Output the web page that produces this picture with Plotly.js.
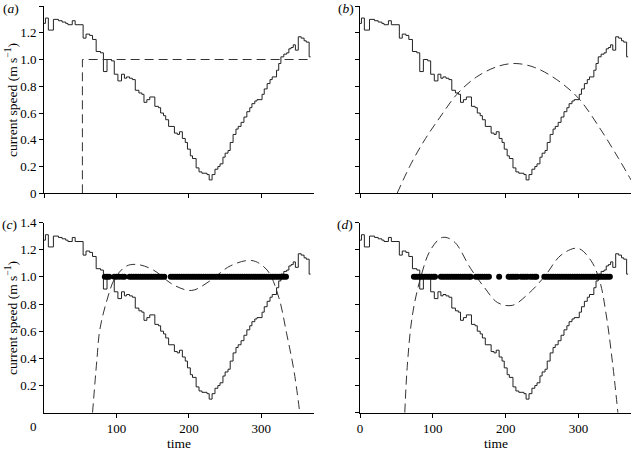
<!DOCTYPE html>
<html>
<head>
<meta charset="utf-8">
<script src="https://cdn.plot.ly/plotly-3.0.1.min.js"></script>
<style>
  body { margin: 0; background: #fff; }
  #graph { width: 634px; height: 450px; }
</style>
</head>
<body>
<div id="graph"></div>
<script>
// 流速データ（階段状）
const time = [0, 2, 6, 13, 20, 25, 30, 33, 39, 43, 54, 58, 63, 67, 72, 78, 82, 87, 93, 97,
  102, 107, 111, 114, 118, 122, 126, 131, 135, 138, 142, 146, 153, 158, 161, 165, 168, 172, 180, 184,
  187, 191, 195, 198, 202, 205, 210, 214, 218, 225, 228, 232, 236, 240, 243, 247, 250, 254, 257, 261,
  265, 268, 272, 276, 280, 284, 287, 291, 294, 301, 304, 308, 312, 315, 321, 324, 327, 331, 335, 338,
  341, 344, 347, 351, 355, 359, 362, 366, 368];
const speed = [1.27, 1.31, 1.22, 1.30, 1.29, 1.28, 1.27, 1.26, 1.29, 1.26, 1.16, 1.19, 1.18, 1.15, 1.06, 1.05, 0.91, 1.00, 0.99, 0.89,
  0.84, 0.89, 0.86, 0.87, 0.86, 0.85, 0.77, 0.75, 0.74, 0.68, 0.70, 0.72, 0.65, 0.64, 0.60, 0.58, 0.55, 0.50, 0.45, 0.44,
  0.46, 0.41, 0.38, 0.33, 0.28, 0.26, 0.19, 0.16, 0.15, 0.14, 0.10, 0.14, 0.18, 0.20, 0.22, 0.27, 0.30, 0.32, 0.38, 0.44,
  0.48, 0.50, 0.53, 0.57, 0.61, 0.64, 0.67, 0.69, 0.70, 0.74, 0.78, 0.82, 0.85, 0.87, 0.92, 0.97, 1.02, 1.04, 1.05, 1.08,
  1.09, 1.11, 1.07, 1.17, 1.16, 1.14, 1.13, 1.02, 1.02];

// (a) 一定速度の戦略
const stratA_t = [53, 53, 370];
const stratA_v = [0, 1.0, 1.0];

// (b) 放物線状の戦略
const stratB_t = [51, 70, 90, 110, 133, 160, 190, 214, 240, 270, 300, 330, 355, 372];
const stratB_v = [0, 0.22, 0.41, 0.57, 0.74, 0.87, 0.95, 0.97, 0.94, 0.85, 0.71, 0.48, 0.26, 0.10];

// (c) 戦略曲線
const stratC_t = [67, 73, 77, 87, 98, 114, 130, 151, 179, 204, 229, 257, 287, 308, 324, 335, 345, 353];
const stratC_v = [0, 0.39, 0.61, 0.83, 0.99, 1.08, 1.09, 1.05, 0.94, 0.90, 0.97, 1.08, 1.12, 1.05, 0.85, 0.58, 0.31, 0];

// (d) 戦略曲線
const stratD_t = [61.5, 65, 72, 83.5, 97, 113, 129, 152, 171, 189, 209, 230, 253, 276, 299, 317, 329, 338, 347, 354];
const stratD_v = [0, 0.35, 0.72, 1.0, 1.2, 1.29, 1.26, 1.06, 0.92, 0.81, 0.79, 0.87, 1.0, 1.16, 1.21, 1.12, 0.97, 0.72, 0.35, 0];

// 黒丸の時刻
const dotsC = [84, 87, 90, 97, 100, 104, 108, 111, 118, 121, 124, 127, 130, 133, 136, 139, 142, 145, 148, 151,
  154, 157, 160, 163, 166, 175, 178, 181, 184, 187, 190, 193, 196, 199, 202, 205, 208, 211, 214, 217,
  220, 223, 226, 229, 232, 235, 238, 241, 244, 247, 250, 253, 256, 259, 262, 265, 268, 271, 274, 277,
  280, 283, 286, 289, 292, 295, 298, 301, 304, 307, 310, 313, 316, 319, 322, 325, 328, 331, 334];
const dotsD = [74, 77, 80, 83, 86, 89, 92, 95, 98, 101, 103, 111, 114, 117, 120, 123, 126, 129, 132, 135,
  138, 141, 144, 147, 150, 152, 159, 162, 165, 168, 171, 174, 177, 191, 204, 207, 210, 213, 216, 221,
  224, 227, 230, 234, 237, 240, 242, 253, 256, 259, 262, 265, 268, 271, 274, 277, 280, 283, 286, 289,
  292, 295, 298, 301, 304, 307, 310, 313, 316, 319, 322, 325, 328, 331, 334, 337, 340, 343];
const dotLevel = 1.0;

// 軸の目盛り
const yTicks = [0, 0.2, 0.4, 0.6, 0.8, 1.0, 1.2, 1.4];
const yTickText = ["0", "0.2", "0.4", "0.6", "0.8", "1.0", "1.2", "1.4"];
const xTicks = [0, 100, 200, 300];
const xTickText = ["0", "100", "200", "300"];

const W = 634, H = 450;
const font = { family: "Liberation Serif", size: 13.5, color: "#000" };
const tickFont = { family: "Liberation Serif", size: 13, color: "#000" };

// パネルの位置（ピクセル）
const colX = [[44, 313.5], [360, 631]];
const rowY = [[6, 193.3], [222.5, 412.7]];

function px(x) { return x / W; }
function py(y) { return 1 - y / H; }

function speedTrace(n) {
  return {
    x: time, y: speed, mode: "lines", type: "scatter",
    line: { color: "#222", width: 1, shape: "hv" },
    xaxis: "x" + n, yaxis: "y" + n, hoverinfo: "skip"
  };
}

function dashTrace(n, xs, ys, smooth) {
  return {
    x: xs, y: ys, mode: "lines", type: "scatter",
    line: { color: "#333", width: 1, dash: "9px,5px", shape: smooth ? "spline" : "linear" },
    xaxis: "x" + n, yaxis: "y" + n, hoverinfo: "skip"
  };
}

function dotTrace(n, xs) {
  return {
    x: xs, y: xs.map(() => dotLevel), mode: "markers", type: "scatter",
    marker: { color: "#000", size: 6 },
    xaxis: "x" + n, yaxis: "y" + n, hoverinfo: "skip"
  };
}

const data = [
  speedTrace(""), dashTrace("", stratA_t, stratA_v, false),
  speedTrace(2), dashTrace(2, stratB_t, stratB_v, true),
  speedTrace(3), dashTrace(3, stratC_t, stratC_v, true), dotTrace(3, dotsC),
  speedTrace(4), dashTrace(4, stratD_t, stratD_v, true), dotTrace(4, dotsD)
];

function xAxis(col, row, labels, anchor) {
  return {
    domain: [px(colX[col][0]), px(colX[col][1])],
    anchor: anchor, range: [0, 372],
    showline: true, linecolor: "#000", linewidth: 1,
    showgrid: false, zeroline: false,
    ticks: "outside", ticklen: 4, tickcolor: "#000",
    tickvals: xTicks, ticktext: labels || xTickText,
    showticklabels: !!labels, tickfont: tickFont
  };
}

function yAxis(col, row, labels, anchor) {
  return {
    domain: [py(rowY[row][1]), py(rowY[row][0])],
    anchor: anchor, range: [0, 1.4],
    showline: true, linecolor: "#000", linewidth: 1,
    showgrid: false, zeroline: false,
    ticks: "outside", ticklen: 4, tickcolor: "#000",
    tickvals: yTicks, ticktext: labels || yTickText,
    showticklabels: !!labels, tickfont: tickFont
  };
}

// (c) は 0 の目盛りラベルを別に置く
const yLabelC = yTickText.slice(1);
const yTicksC = yTicks.slice(1);
const xLabelC = xTickText.slice(1);
const xTicksC = xTicks.slice(1);

function note(text, x, y, extra) {
  return Object.assign({
    text: text, x: px(x), y: py(y), xref: "paper", yref: "paper",
    showarrow: false, font: font, xanchor: "center", yanchor: "middle"
  }, extra || {});
}

const yTitle = "current speed (m s<sup>−1</sup>)";

const xa3 = xAxis(0, 1, xLabelC, "y3");
xa3.tickvals = xTicksC;
const ya3 = yAxis(0, 1, yLabelC, "x3");
ya3.tickvals = yTicksC;

const layout = {
  width: W, height: H,
  margin: { l: 0, r: 0, t: 0, b: 0 },
  paper_bgcolor: "#fff", plot_bgcolor: "#fff",
  showlegend: false, font: font,
  xaxis: xAxis(0, 0, null, "y"),
  yaxis: yAxis(0, 0, yTickText, "x"),
  xaxis2: xAxis(1, 0, null, "y2"),
  yaxis2: yAxis(1, 0, null, "x2"),
  xaxis3: xa3,
  yaxis3: ya3,
  xaxis4: xAxis(1, 1, xTickText, "y4"),
  yaxis4: yAxis(1, 1, null, "x4"),
  annotations: [
    note("(<i>a</i>)", 1, 8, { xanchor: "left" }),
    note("(<i>b</i>)", 336, 8, { xanchor: "left" }),
    note("(<i>c</i>)", 0, 224, { xanchor: "left" }),
    note("(<i>d</i>)", 335, 224, { xanchor: "left" }),
    note(yTitle, 11, 100, { textangle: -90 }),
    note(yTitle, 11, 318, { textangle: -90 }),
    note("0", 33, 426, { font: tickFont }),
    note("time", 178.5, 443),
    note("time", 495.5, 443)
  ]
};

Plotly.newPlot("graph", data, layout, { staticPlot: true });
</script>
</body>
</html>
